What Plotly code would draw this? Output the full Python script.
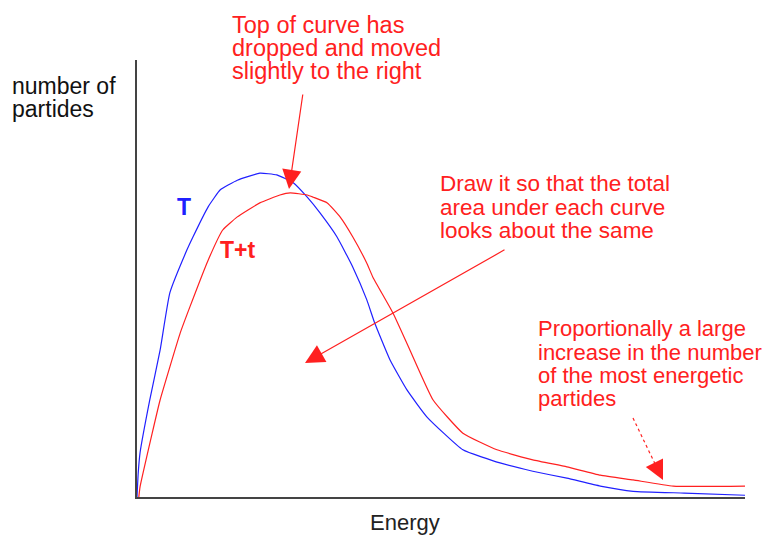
import plotly.graph_objects as go

# Energy (0-100) and relative number of particles (0-100)
t_energy = [0, 0.2, 0.5, 2.1, 3.8, 5.4, 8.2, 9.2, 11.7, 13.7, 16.5, 20.2, 23.0, 25.7, 28.0,
            30.1, 32.9, 35.5, 37.8, 39.1, 41.6, 44.4, 47.7, 53.6, 59.7, 65.1, 70.7, 76.2,
            81.6, 90.0, 100]
t_count = [0, 5.5, 10.1, 22.2, 33.6, 46.7, 56.5, 59.5, 66.4, 70.3, 72.5, 74.1, 73.7, 71.9, 68.6,
           65.0, 59.5, 52.6, 45.1, 39.8, 31.4, 24.5, 18.3, 10.8, 7.8, 5.9, 4.3, 2.5,
           1.3, 0.9, 0.4]

tt_energy = [0.3, 0.5, 2.5, 3.8, 7.1, 8.7, 11.7, 14.1, 16.5, 20.2, 23.5, 25.2, 28.0, 29.0,
             31.3, 33.4, 35.5, 37.8, 38.8, 42.1, 44.9, 48.7, 53.6, 59.2, 65.1, 70.7, 76.2,
             81.6, 88.2, 100]
tt_count = [0, 2.3, 14.6, 22.2, 37.5, 43.5, 54.2, 61.1, 64.1, 67.3, 69.1, 69.6, 69.1, 68.6,
            67.3, 64.1, 59.5, 53.5, 50.3, 42.1, 33.6, 22.2, 14.6, 10.8, 8.5, 6.9, 5.0,
            3.9, 2.5, 2.5]

W, H = 770, 536
L, R, T, B = 137, 745, 60, 497

def px(x):
    return (x - L) / (R - L)

def py(y):
    return (B - y) / (B - T)

RED = "#ff2020"
BLUE = "#2020ff"
FONT = "Liberation Sans"

fig = go.Figure()
fig.add_trace(go.Scatter(x=t_energy, y=t_count, mode="lines",
                         line=dict(color=BLUE, width=1.2, shape="spline", smoothing=0.4),
                         hoverinfo="skip"))
fig.add_trace(go.Scatter(x=tt_energy, y=tt_count, mode="lines",
                         line=dict(color=RED, width=1.2, shape="spline", smoothing=0.4),
                         hoverinfo="skip"))

ann = []

def text(x, y, s, color=RED, size=23, bold=False):
    if bold:
        s = "<b>" + s + "</b>"
    ann.append(dict(x=px(x), y=py(y), xref="paper", yref="paper", text=s,
                    showarrow=False, xanchor="left", yanchor="middle",
                    font=dict(family=FONT, size=size, color=color)))

def lines(x, baselines, strs, **kw):
    for b, s in zip(baselines, strs):
        text(x, b - 7, s, **kw)

lines(230, [32, 55, 78], ["Top of curve has", "dropped and moved", "slightly to the right"], size=23.5)
lines(438, [190, 214, 237], ["Draw it so that the total", "area under each curve", "looks about the same"], size=22.5)
lines(536, [335, 359, 382, 405], ["Proportionally a large", "increase in the number",
                                  "of the most energetic", "partides"], size=22)
lines(10, [93, 116], ["number of", "partides"], color="#111111")
text(175, 207, "T", color=BLUE, bold=True)
text(218, 250, "T+t", color=RED, bold=True)
text(368, 522, "Energy", color="#222222", size=22)

def arrow(tip, tail):
    ann.append(dict(x=px(tip[0]), y=py(tip[1]), xref="paper", yref="paper",
                    ax=tail[0] - tip[0], ay=tail[1] - tip[1], axref="pixel", ayref="pixel",
                    showarrow=True, arrowhead=2, arrowsize=3.2, arrowwidth=1.2,
                    arrowcolor=RED, text=""))

arrow((289, 189), (303, 93))
arrow((305, 363), (506, 249))
ann.append(dict(x=px(663), y=py(480), xref="paper", yref="paper",
                ax=-6, ay=-12, showarrow=True, arrowhead=2, arrowsize=3.2,
                arrowwidth=1.2, arrowcolor=RED, text=""))

shapes = [dict(type="line", xref="paper", yref="paper",
               x0=px(633), y0=py(418), x1=px(657), y1=py(468),
               line=dict(color=RED, width=1.2, dash="dot"))]

fig.update_layout(
    width=W, height=H,
    margin=dict(l=L, r=W - R, t=T, b=H - B, pad=0),
    paper_bgcolor="white", plot_bgcolor="white",
    showlegend=False,
    xaxis=dict(range=[0, 100], showgrid=False, zeroline=False, showticklabels=False,
               ticks="", showline=True, linecolor="#444444", linewidth=2),
    yaxis=dict(range=[0, 100], showgrid=False, zeroline=False, showticklabels=False,
               ticks="", showline=True, linecolor="#444444", linewidth=2),
    annotations=ann, shapes=shapes,
)

fig.write_html("out.html", config={"displayModeBar": False},
               post_script="document.body.style.margin='0px';")
